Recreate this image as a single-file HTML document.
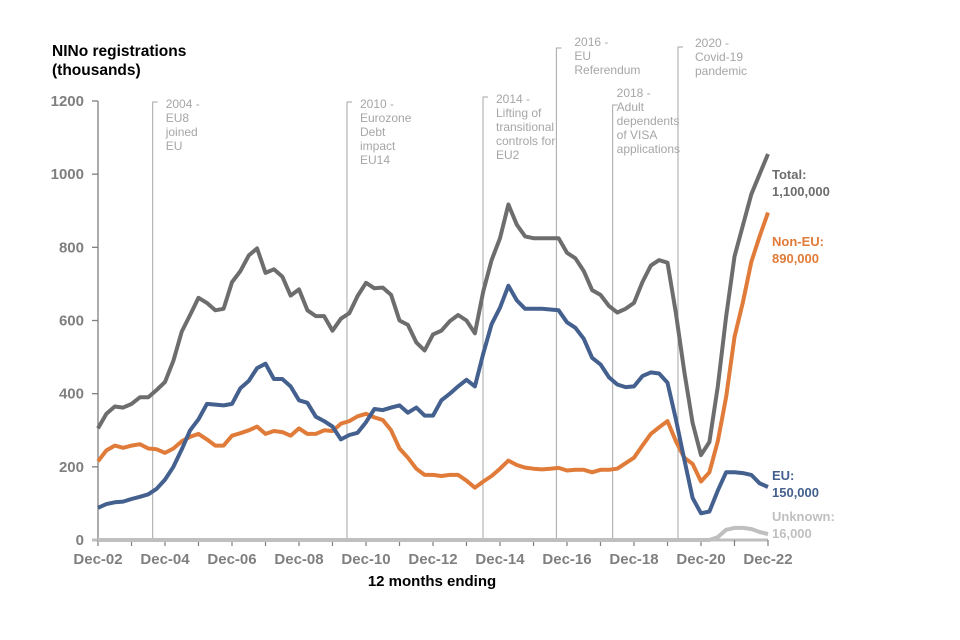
<!DOCTYPE html>
<html><head><meta charset="utf-8"><style>
body{margin:0;background:#fff;}
svg{display:block;font-family:"Liberation Sans",Arial,sans-serif;}
</style></head><body>
<svg id="chart" width="960" height="640" viewBox="0 0 960 640">
<text x="52" y="56" font-size="15.5" font-weight="bold" fill="#000">NINo registrations</text>
<text x="52" y="75" font-size="15.5" font-weight="bold" fill="#000">(thousands)</text>
<text x="432" y="586" font-size="15" font-weight="bold" fill="#000" text-anchor="middle">12 months ending</text>
<g id="events"></g><g id="axes"></g><g id="series"></g><g id="labels"></g>
</svg>
<script>
const quarters = 81;
const yTicks = [0,200,400,600,800,1000,1200];
const xTickLabels = ["Dec-02","Dec-04","Dec-06","Dec-08","Dec-10","Dec-12","Dec-14","Dec-16","Dec-18","Dec-20","Dec-22"];
const totalValues = [305,345,365,362,372,390,390,410,432,490,570,615,662,648,628,632,705,735,778,797,730,740,720,668,685,628,612,612,572,605,620,667,703,688,690,670,600,588,540,518,562,572,598,615,600,565,680,765,825,917,862,830,825,825,825,825,785,770,735,683,670,640,622,632,648,705,750,765,758,620,460,320,232,268,420,610,775,860,945,1000,1055];
const nonEuValues = [215,245,258,252,258,262,250,248,238,250,270,282,290,275,258,258,285,292,300,310,290,298,295,285,305,290,290,300,298,318,325,338,345,335,328,300,250,225,195,178,178,175,178,178,162,143,160,175,195,217,205,198,195,193,195,197,190,192,192,185,192,192,195,210,225,258,290,308,325,270,225,208,160,185,270,390,555,650,760,830,895];
const euValues = [88,98,103,105,112,118,125,140,165,200,248,300,330,372,370,368,372,415,435,470,482,440,440,420,382,375,337,325,310,275,287,293,322,358,355,362,368,348,362,340,340,382,400,420,438,420,510,590,635,695,655,632,632,632,630,628,595,580,550,498,480,445,425,418,420,448,458,455,430,330,220,115,73,78,135,185,185,183,178,155,145];
const unknownValues = [0,0,0,0,0,0,0,0,0,0,0,0,0,0,0,0,0,0,0,0,0,0,0,0,0,0,0,0,0,0,0,0,0,0,0,0,0,0,0,0,0,0,0,0,0,0,0,0,0,0,0,0,0,0,0,0,0,0,0,0,0,0,0,0,0,0,0,0,0,0,0,0,0,0,8,28,33,33,30,22,16];
const eventYears = [2004,2010,2014,2016,2018,2020];
const eventDates = [2004.55,2010.35,2014.41,2016.6,2018.28,2020.23];
const eventText = [["2004 -","EU8","joined","EU"],["2010 -","Eurozone","Debt","impact","EU14"],["2014 -","Lifting of","transitional","controls for","EU2"],["2016 -","EU","Referendum"],["2018 -","Adult","dependents","of VISA","applications"],["2020 -","Covid-19","pandemic"]];

const NS="http://www.w3.org/2000/svg";
const X0=98, X1=768, Y0=540, Y1=101;
function xScale(i){return X0+(X1-X0)*i/(quarters-1);}
function xYear(y){return X0+(X1-X0)*(y-2002.917)/20;}
function yScale(v){return Y0-(Y0-Y1)*v/1200;}
function mk(tag,attrs,parent){const e=document.createElementNS(NS,tag);for(const k in attrs)e.setAttribute(k,attrs[k]);parent.appendChild(e);return e;}

const axes=document.getElementById('axes');
const yAxis=mk('line',{x1:X0,x2:X0,y1:Y1,y2:Y0,stroke:'#7f7f7f','stroke-width':1.3},axes);


yTicks.forEach(t=>{
  const y=yScale(t);
  const tk=mk('line',{x1:X0-6,x2:X0,y1:y,y2:y,stroke:'#7f7f7f','stroke-width':1.3},axes);
  
  
  const tl=mk('text',{x:84,y:y+5,'font-size':15,'font-weight':'bold',fill:'#7f7f7f','text-anchor':'end'},axes);
  tl.textContent=t;
  
  
});
const xAxis=mk('line',{x1:X0-6,x2:X1,y1:Y0,y2:Y0,stroke:'#bfbfbf','stroke-width':3},axes);


for(let y=0;y<=20;y++){
  const x=xYear(2002.917+y);
  const tk=mk('line',{x1:x,x2:x,y1:Y0,y2:Y0+6,stroke:'#7f7f7f','stroke-width':1.2},axes);
  
  
}
xTickLabels.forEach((l,i)=>{
  const t=mk('text',{x:xYear(2002.917+2*i),y:564,'font-size':15,'font-weight':'bold',fill:'#7f7f7f','text-anchor':'middle'},axes);
  t.textContent=l;
  
  
});

const evTop=[102,102,97,48,105,47];
const evTextX=[13,13,13,18,4,17];
const evBase=[108,108,103,46,97,47];
const ev=document.getElementById('events');
eventYears.forEach((yr,i)=>{
  const x=xYear(eventDates[i]);
  const l=mk('path',{d:`M${x} ${Y0}V${evTop[i]}h5`,stroke:'#a6a6a6','stroke-width':1,fill:'none'},ev);
  
  
  eventText[i].forEach((s,j)=>{
    const t=mk('text',{x:x+evTextX[i],y:evBase[i]+14*j,'font-size':12,fill:'#a6a6a6'},ev);
    t.textContent=s;
    
    
  });
});

const series=[
 {name:'unknown',vals:unknownValues,color:'#bfbfbf'},
 {name:'non-eu',vals:nonEuValues,color:'#e07b39'},
 {name:'eu',vals:euValues,color:'#44608f'},
 {name:'total',vals:totalValues,color:'#6d6d6d'}];
const sg=document.getElementById('series');
series.forEach(s=>{
  const d=s.vals.map((v,i)=>(i?'L':'M')+xScale(i).toFixed(1)+' '+yScale(v).toFixed(1)).join('');
  const p=mk('path',{d:d,stroke:s.color,'stroke-width':4,fill:'none','stroke-linejoin':'round'},sg);
  
  
});

const labs=[["Total:","1,100,000",'#6d6d6d',179],["Non-EU:","890,000",'#e07b39',246],["EU:","150,000",'#44608f',480],["Unknown:","16,000",'#bfbfbf',521]];
const lg=document.getElementById('labels');
labs.forEach(l=>{
  const t=mk('text',{x:772,y:l[3],'font-size':13,'font-weight':'bold',fill:l[2]},lg);
  t.textContent=l[0];
  
  
  const t2=mk('text',{x:772,y:l[3]+17,'font-size':13,'font-weight':'bold',fill:l[2]},lg);
  t2.textContent=l[1];
  
  
});
</script>
</body></html>
